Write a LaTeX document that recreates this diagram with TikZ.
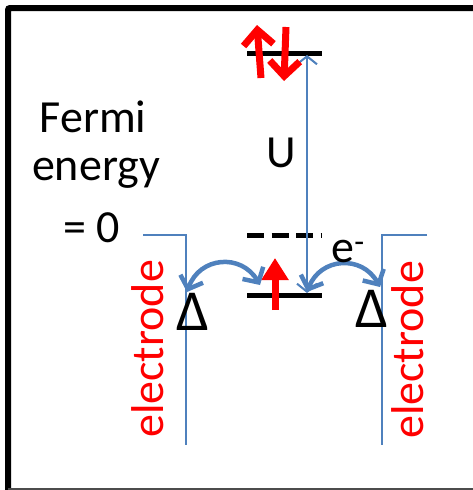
\documentclass[tikz,border=0pt]{standalone}
\usepackage{fontspec}
\setmainfont{Carlito}
\usetikzlibrary{arrows.meta, positioning}
\definecolor{leadblue}{RGB}{79,129,189}
\tikzstyle{hop} = [leadblue, line width=4.5pt, {Straight Barb[length=11pt,width=24pt]}-{Straight Barb[length=11pt,width=24pt]}]

\begin{document}
\begin{tikzpicture}[
    x=1pt, y=-1pt,
    level/.style={line width=5pt, black},
    lead/.style={leadblue, line width=1.3pt},
    spin/.style={red, line width=7pt},
    txt/.style={font=\fontsize{46}{52}\selectfont, inner sep=0pt},
    gaplabel/.style={txt, font=\fontsize{58}{62}\selectfont, anchor=base},
    elabel/.style={txt, red, rotate=90}
  ]
    \useasboundingbox (0,0) rectangle (473,490);
    % Frame
    \draw[line width=6pt, rounded corners=2pt] (8,495) -- (8,8) -- (480,8);
    \draw[black!70, line width=1.5pt] (8,489) -- (473,489);

    % Dot levels
    \coordinate (upA) at (247,53);   \coordinate (upB) at (322,53);
    \coordinate (dashA) at (247,235); \coordinate (dashB) at (322,235);
    \coordinate (lowA) at (247,295);  \coordinate (lowB) at (322,295);
    \draw[level] (upA) -- (upB);
    \draw[level, dash pattern=on 17pt off 7.5pt] (dashA) -- (dashB);
    \draw[level] (lowA) -- (lowB);

    % Electrodes
    \coordinate (leftTop) at (143,235); \coordinate (leftEdge) at (186,235);
    \coordinate (leftFoot) at (186,445);
    \coordinate (rightTop) at (427,235); \coordinate (rightEdge) at (382,235);
    \coordinate (rightFoot) at (382,445);
    \draw[lead] (leftTop) -- (leftEdge) -- (leftFoot);
    \draw[lead] (rightTop) -- (rightEdge) -- (rightFoot);

    % Charging energy
    \coordinate (uTop) at (307,55);
    \coordinate (uBot) at (307,293);
    \draw[lead, line width=2pt, {Straight Barb[length=8pt,width=20pt]}-{Straight Barb[length=8pt,width=20pt]}] (uBot) -- (uTop);
    \node[txt] (u) at (281,153) {U};

    % Spins
    \draw[spin, -{Straight Barb[length=15pt,width=30pt]}] (261,78) -- (257,25);
    \draw[spin, -{Straight Barb[length=15pt,width=30pt]}] (286,27) -- (284,81);
    \draw[spin, -{Triangle[length=22pt,width=26pt]}] (275,310) -- (275,258);

    % Tunnelling
    \coordinate (hopL1) at (187,292); \coordinate (hopL2) at (260,285);
    \coordinate (hopR1) at (307,292); \coordinate (hopR2) at (380,287);
    \draw[hop] (hopL1) to[bend left=65, looseness=1.3] (hopL2);
    \draw[hop] (hopR1) to[bend left=65, looseness=1.3] (hopR2);
    \node[txt, anchor=base] (elec) at (348,262) {e\textsuperscript{-}};
    \node[gaplabel] (gapL) at (193,330) {Δ};
    \node[gaplabel] (gapR) at (372,327) {Δ};

    % Labels
    \node[txt, anchor=base] (fermi) at (93,132) {Fermi};
    \node[txt, anchor=base] (energy) at (96,180) {energy};
    \node[txt, anchor=base] (zero) at (92,242) {= 0};
    \node[elabel] (leftLab) at (148,349) {electrode};
    \node[elabel] (rightLab) at (408,350) {electrode};
\end{tikzpicture}
\end{document}
